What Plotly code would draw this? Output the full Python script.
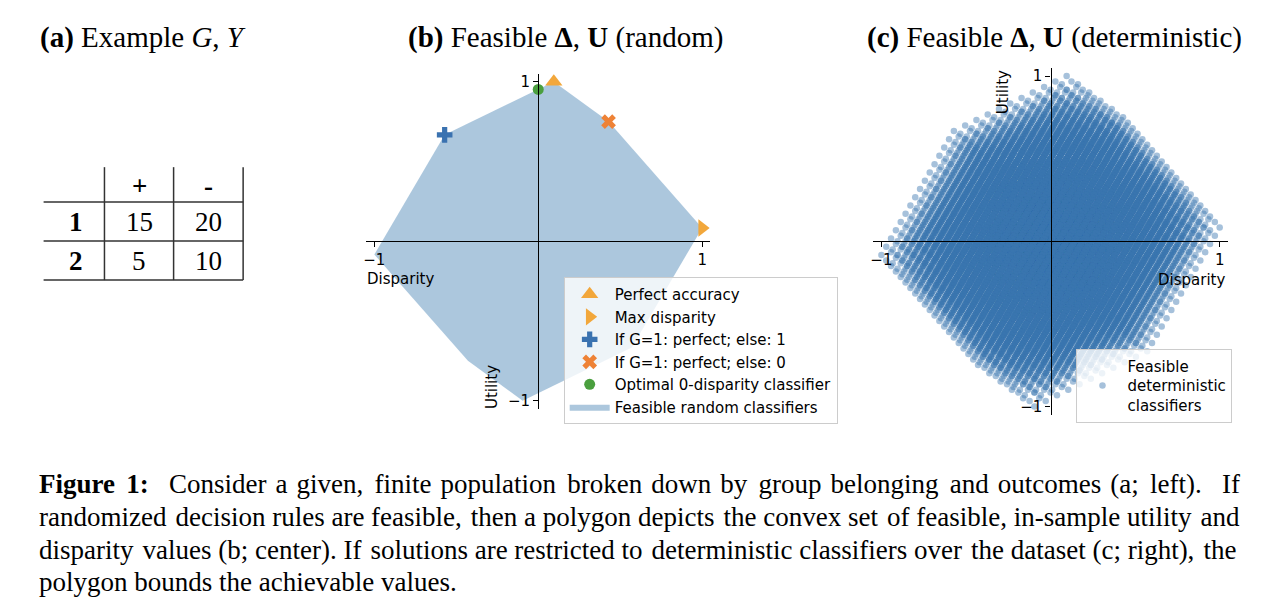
import numpy as np
import plotly.graph_objects as go

W, H = 1280, 612

# ---------------- data ----------------
# (a) example population: rows = group G, columns = outcome Y
groups = ["1", "2"]
outcomes = ["+", "-"]
counts = [[15, 20], [5, 10]]

# (b) feasible region of random classifiers (polygon vertices)
poly_disparity = [0.095, 0.429, 1.0, 0.571, -0.095, -0.429, -1.0, -0.571]
poly_utility = [1.0, 0.75, 0.083, -0.667, -1.0, -0.75, -0.083, 0.667]

# (b) special classifiers
point_names = ["Perfect accuracy", "Max disparity", "If G=1: perfect; else: 1",
               "If G=1: perfect; else: 0", "Optimal 0-disparity classifier"]
point_disparity = [0.095, 1.0, -0.571, 0.429, 0.0]
point_utility = [1.0, 0.083, 0.667, 0.75, 0.952]
point_symbols = ["triangle-up", "triangle-right", "cross", "x", "circle"]
point_colors = ["#f2a73b", "#f2a73b", "#3a72b0", "#ee8236", "#4a9f3e"]
point_sizes = [15, 15, 13, 13, 11]

# (c) all deterministic classifiers over the table in (a)
pos1, neg1 = counts[0]
pos2, neg2 = counts[1]
P, N = pos1 + pos2, neg1 + neg2
n1, n2 = pos1 + neg1, pos2 + neg2
tp1, fp1, tp2, fp2 = np.meshgrid(np.arange(pos1 + 1), np.arange(neg1 + 1),
                                 np.arange(pos2 + 1), np.arange(neg2 + 1), indexing="ij")
det_disparity = ((tp1 + fp1) / n1 - (tp2 + fp2) / n2).ravel()
det_utility = ((tp1 + tp2) / P - (fp1 + fp2) / N).ravel()

ticks = [-1, 1]
tick_text = ["\u22121", "1"]

caption_lines = [
    "<b>Figure 1:</b>  Consider a given, finite population broken down by group belonging and outcomes (a; left).  If",
    "randomized decision rules are feasible, then a polygon depicts the convex set of feasible, in-sample utility and",
    "disparity values (b; center). If solutions are restricted to deterministic classifiers over the dataset (c; right), the",
    "polygon bounds the achievable values.",
]
caption_extra_hair = [26, 5, 5, 0]   # hair spaces to emulate justified lines

# ---------------- helpers ----------------
def px(x):
    return x / W

def py(y):
    return 1 - y / H

SERIF = "Liberation Serif"
SANS = "DejaVu Sans"

fig = go.Figure()

# (b) polygon
fig.add_trace(go.Scatter(
    x=poly_disparity + [poly_disparity[0]], y=poly_utility + [poly_utility[0]],
    mode="lines", fill="toself", fillcolor="rgba(70,130,180,0.45)",
    line=dict(width=0, color="rgba(70,130,180,0.45)"),
    name="Feasible random classifiers", legend="legend", legendrank=10,
    xaxis="x", yaxis="y", hoverinfo="skip"))

for i, nm in enumerate(point_names):
    fig.add_trace(go.Scatter(
        x=[point_disparity[i]], y=[point_utility[i]], mode="markers",
        marker=dict(symbol=point_symbols[i], color=point_colors[i], size=point_sizes[i],
                    line=dict(width=0)),
        name=nm, legend="legend", legendrank=i + 1, xaxis="x", yaxis="y"))

# (c) scatter
fig.add_trace(go.Scatter(
    x=det_disparity, y=det_utility, mode="markers",
    marker=dict(color="rgba(58,118,175,0.45)", size=6.5, line=dict(width=0)),
    name="Feasible<br>deterministic<br>classifiers", legend="legend2",
    xaxis="x2", yaxis="y2", hoverinfo="skip"))

bx = [px(364), px(709)]
by = [py(409), py(73)]
cx = [px(872), px(1228)]
cy = [py(415), py(67)]

def axis(domain, position):
    return dict(domain=domain, range=[-1.05, 1.05], anchor="free", position=position,
                showgrid=False, zeroline=False, showline=True, linecolor="black",
                linewidth=1.3, ticks="outside", ticklen=5, tickwidth=1.3, tickcolor="black",
                tickvals=ticks, ticktext=tick_text,
                tickfont=dict(family=SANS, size=15, color="black"), fixedrange=True)

annotations = []

# panel titles
annotations.append(dict(text="<b>(a)</b> Example <i>G</i>, <i>Y</i>", x=px(35), y=py(37),
                        xanchor="left", yanchor="middle"))
annotations.append(dict(text="<b>(b)</b> Feasible <b>\u0394</b>, <b>U</b> (random)",
                        x=px(564), y=py(37), xanchor="center", yanchor="middle"))
annotations.append(dict(text="<b>(c)</b> Feasible <b>\u0394</b>, <b>U</b> (deterministic)",
                        x=px(1054), y=py(37), xanchor="center", yanchor="middle"))
for a in annotations:
    a.update(xref="paper", yref="paper", showarrow=False,
             font=dict(family=SERIF, size=29, color="black"))

# table (a)
col_edges = [40.7, 101.7, 171, 240.7]
row_edges = [166.7, 201.7, 240.7, 280]
col_c = [(col_edges[i] + col_edges[i + 1]) / 2 for i in range(3)]
row_c = [(row_edges[i] + row_edges[i + 1]) / 2 for i in range(3)]
shapes = []
for xe in col_edges[1:]:
    shapes.append(dict(type="line", xref="paper", yref="paper", x0=px(xe), x1=px(xe),
                       y0=py(row_edges[0]), y1=py(row_edges[-1]),
                       line=dict(color="#333333", width=1.5)))
for ye in row_edges[1:]:
    shapes.append(dict(type="line", xref="paper", yref="paper", x0=px(col_edges[0]),
                       x1=px(col_edges[-1]), y0=py(ye), y1=py(ye),
                       line=dict(color="#333333", width=1.5)))

def cell(txt, c, r, bold=False):
    return dict(text=("<b>%s</b>" % txt) if bold else txt, x=px(col_c[c] + (2 if c == 0 else 0)),
                y=py(row_c[r] + 1), xref="paper", yref="paper", showarrow=False,
                xanchor="center", yanchor="middle",
                font=dict(family=SERIF, size=27, color="black"))

for j, o in enumerate(outcomes):
    annotations.append(cell(o, j + 1, 0, bold=True))
for i, g in enumerate(groups):
    annotations.append(cell(g, 0, i + 1, bold=True))
    for j in range(2):
        annotations.append(cell(str(counts[i][j]), j + 1, i + 1))

# axis labels
lab = dict(showarrow=False, font=dict(family=SANS, size=15, color="black"))
annotations.append(dict(text="Disparity", x=-0.84, y=-0.2375, xref="x", yref="y",
                        xanchor="center", yanchor="middle", **lab))
annotations.append(dict(text="Utility", x=-0.286, y=-0.9125, xref="x", yref="y",
                        textangle=-90, xanchor="center", yanchor="middle", **lab))
annotations.append(dict(text="Disparity", x=0.835, y=-0.237, xref="x2", yref="y2",
                        xanchor="center", yanchor="middle", **lab))
annotations.append(dict(text="Utility", x=-0.284, y=0.899, xref="x2", yref="y2",
                        textangle=-90, xanchor="center", yanchor="middle", **lab))

# caption (spread hair spaces evenly over the word gaps to imitate justification)
def justify(line, n_extra):
    parts = line.split(" ")
    gaps = len(parts) - 1
    if n_extra <= 0 or gaps <= 0:
        return line
    per_gap = [n_extra // gaps] * gaps
    for g in np.round(np.linspace(0, gaps - 1, n_extra % gaps)).astype(int).tolist() if n_extra % gaps else []:
        per_gap[g] += 1
    out = parts[0]
    for g in range(gaps):
        out += " " + "\u200a" * per_gap[g] + parts[g + 1]
    return out

for k, line in enumerate(caption_lines):
    annotations.append(dict(text=justify(line, caption_extra_hair[k]), x=px(34),
                            y=py(485 + 32.7 * k), xref="paper", yref="paper",
                            xanchor="left", yanchor="middle", showarrow=False,
                            font=dict(family=SERIF, size=27, color="black")))

legend_common = dict(xanchor="left", yanchor="top", bgcolor="rgba(255,255,255,0.8)",
                     bordercolor="#cccccc", borderwidth=1, itemwidth=40,
                     font=dict(family=SANS, size=15, color="black"), xref="paper", yref="paper")

fig.update_layout(
    width=W, height=H, margin=dict(l=0, r=0, t=0, b=0),
    paper_bgcolor="white", plot_bgcolor="rgba(0,0,0,0)",
    showlegend=True,
    xaxis=axis(bx, (by[0] + by[1]) / 2),
    yaxis=axis(by, (bx[0] + bx[1]) / 2),
    xaxis2=axis(cx, (cy[0] + cy[1]) / 2),
    yaxis2=axis(cy, (cx[0] + cx[1]) / 2),
    legend=dict(x=px(562), y=py(277), **legend_common),
    legend2=dict(x=px(1076), y=py(349), **legend_common),
    annotations=annotations, shapes=shapes,
)

fig.write_html("out.html", config={"displayModeBar": False},
               post_script="document.body.style.margin='0px';")
